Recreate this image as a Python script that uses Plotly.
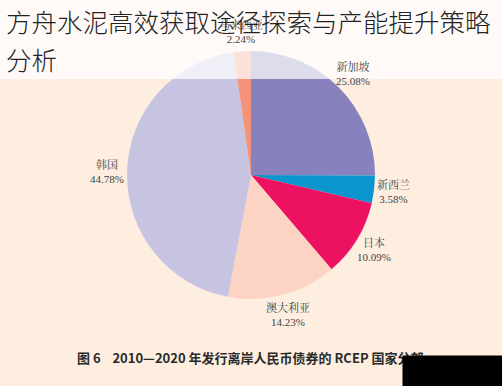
import math
import plotly.graph_objects as go

countries = ["新加坡", "新西兰", "日本", "澳大利亚", "韩国", "马来西亚"]
shares = [25.08, 3.58, 10.09, 14.23, 44.78, 2.24]
colors = ["#8781bd", "#0b95ce", "#ec1261", "#fdd4c3", "#c7c4e2", "#f5927a"]

title_lines = ["方舟水泥高效获取途径探索与产能提升策略", "分析"]
caption_text = "图 6    2010—2020 年发行离岸人民币债券的 RCEP 国家分部"

W, H = 502, 386
cx, cy, R = 251, 175, 124

fig = go.Figure()
fig.add_trace(go.Pie(
    labels=countries, values=shares, sort=False, direction="clockwise",
    rotation=0, marker=dict(colors=colors, line=dict(width=0)),
    textinfo="none", hoverinfo="label+percent", showlegend=False,
    domain=dict(x=[(cx - R) / W, (cx + R) / W],
                y=[(H - cy - R) / H, (H - cy + R) / H]),
))

annotations = []
total = sum(shares)
cum = 0.0
for name, v in zip(countries, shares):
    mid = (cum + v / 2) / total * 2 * math.pi
    cum += v
    f = 1.16
    lx = cx + R * f * math.sin(mid)
    ly = cy - R * f * math.cos(mid)
    annotations.append(dict(
        x=lx / W, y=1 - ly / H, xref="paper", yref="paper",
        text=f"{name}<br>{v:.2f}%", showarrow=False,
        font=dict(family="Liberation Serif, Noto Serif CJK SC, Noto Sans CJK SC", size=11, color="#444"),
        xanchor="center", yanchor="middle", align="center",
    ))

annotations.append(dict(
    x=75 / W, y=1 - 357 / H, xref="paper", yref="paper", text="<b>" + caption_text + "</b>",
    showarrow=False, xanchor="left", yanchor="middle",
    font=dict(family="Noto Sans CJK SC, Liberation Sans", size=13, color="#2a2a2a"),
))
for line, yc in zip(title_lines, [21, 59]):
    annotations.append(dict(
        x=4 / W, y=1 - yc / H, xref="paper", yref="paper", text=line,
        showarrow=False, xanchor="left", yanchor="middle", align="left",
        font=dict(family="Noto Sans CJK SC", size=25.5, color="#222", weight=300),
    ))

shapes = [
    dict(type="rect", xref="paper", yref="paper", x0=0, x1=1, y0=1 - 79 / H, y1=1,
         fillcolor="rgba(255,255,255,0.72)", line=dict(width=0), layer="above"),
]

fig.update_layout(
    width=W, height=H, margin=dict(l=0, r=0, t=0, b=0),
    paper_bgcolor="#fdeee0", plot_bgcolor="#fdeee0",
    annotations=annotations, shapes=shapes,
)
# black cover box at bottom right (drawn as annotation so it sits above caption)
fig.add_annotation(
    x=402 / W, y=1 - 355 / H, xref="paper", yref="paper", text=" ",
    showarrow=False, xanchor="left", yanchor="top", width=100, height=31,
    bgcolor="#000000", borderpad=0,
)

fig.write_html("out.html", config={"displayModeBar": False},
               post_script="document.body.style.margin='0';")
